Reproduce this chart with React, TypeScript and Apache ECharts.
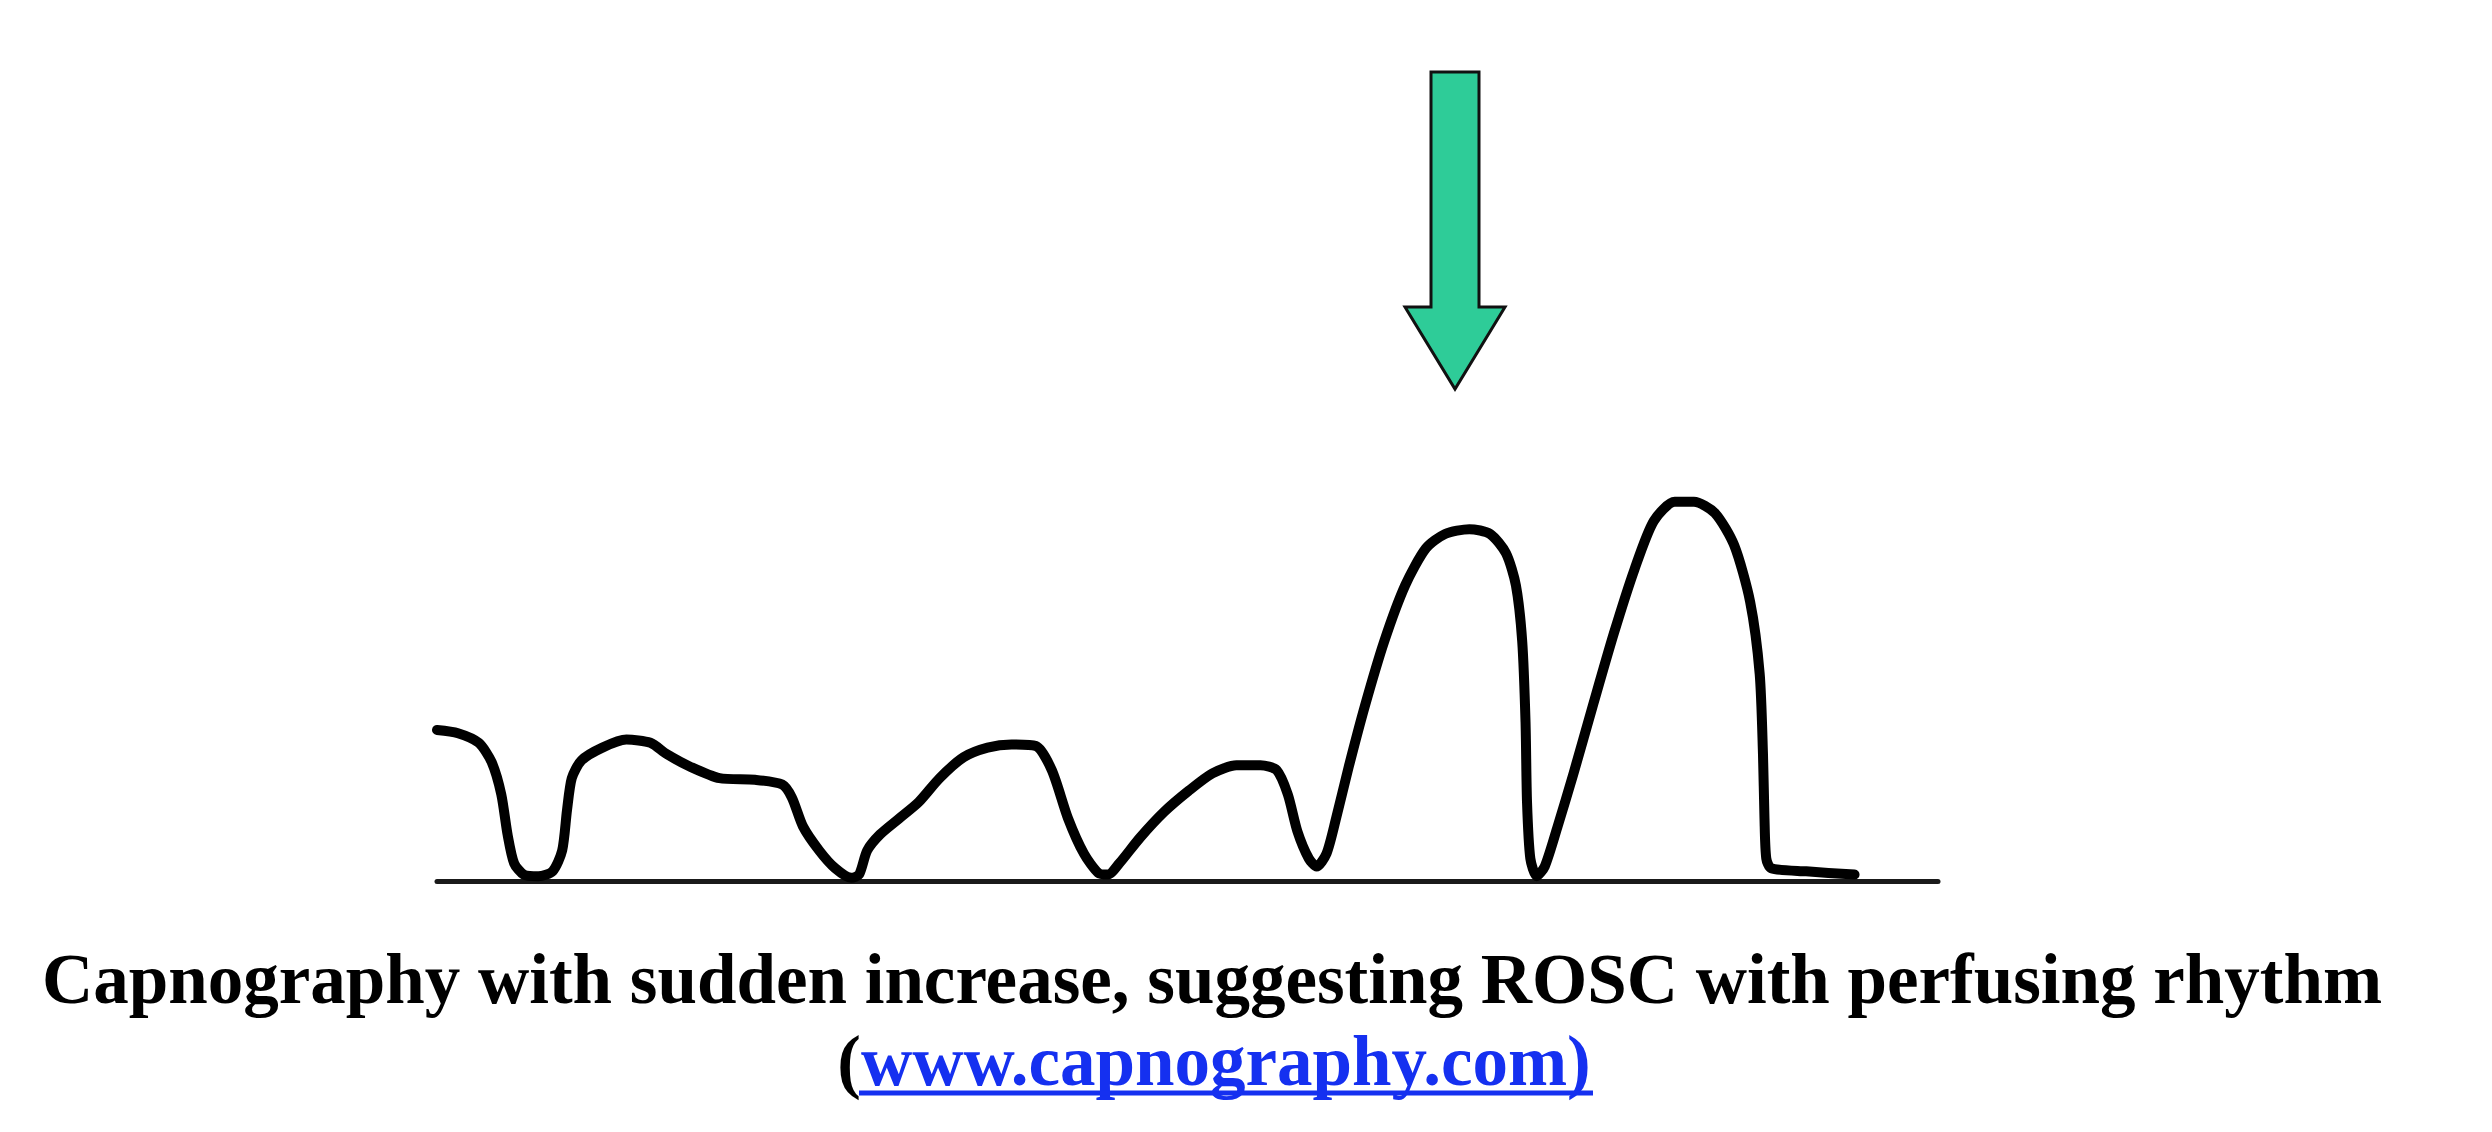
import React, { useEffect, useRef } from "react";
import * as echarts from "echarts";

// Time (s) and CO2 (mmHg)
const timeSec = [
  0.0, 0.7, 1.39, 1.82, 2.14, 2.35, 2.57, 2.89, 3.37, 3.85, 4.17, 4.33, 4.49, 4.81, 5.51, 6.31, 7.11, 7.65, 8.45, 9.41,
  10.59, 11.5, 11.82, 12.19, 12.73, 13.26, 13.8, 14.06, 14.33, 14.76, 15.4, 16.04, 16.74, 17.54, 18.34, 19.14, 19.95,
  20.48, 21.02, 21.55, 22.03, 22.35, 22.73, 23.42, 24.22, 25.03, 25.83, 26.63, 27.43, 27.97, 28.34, 28.66, 29.04, 29.3,
  29.63, 29.95, 30.37, 30.91, 31.55, 32.25, 32.94, 33.58, 34.39, 35.08, 35.61, 35.94, 36.15, 36.26, 36.31, 36.42, 36.63,
  36.9, 37.33, 37.86, 38.5, 39.2, 39.89, 40.53, 41.23, 41.87, 42.57, 43.21, 43.74, 44.06, 44.17, 44.22, 44.28, 44.44,
  45.61, 47.22,
];
const co2mmHg = [
  18.8, 18.4, 17.2, 14.8, 10.8, 5.8, 2.2, 0.8, 0.6, 1.2, 3.8, 8.8, 12.8, 15.0, 16.6, 17.6, 17.2, 15.8, 14.2, 12.8,
  12.6, 12.0, 10.4, 6.8, 3.8, 1.6, 0.4, 0.8, 3.8, 5.8, 7.8, 9.8, 12.8, 15.4, 16.6, 17.0, 16.8,
  13.8, 7.8, 3.4, 1.0, 0.8, 2.2, 5.4, 8.6, 11.2, 13.4, 14.4, 14.4, 13.8, 10.8, 6.2, 2.8, 1.8,
  3.4, 7.8, 14.2, 21.8, 29.8, 36.8, 41.4, 43.2, 43.8, 43.2, 40.8, 36.8, 29.8, 19.8, 9.8, 2.8, 0.6,
  1.8, 6.8, 13.4, 21.8, 30.8, 38.8, 44.8, 47.2, 47.2, 45.8, 41.8, 34.8, 25.8, 15.8, 7.8, 2.8, 1.6,
  1.2, 0.8,
];
const timeRange = [0, 50];
const co2Range = [0, 60];

const captionLine1 = "Capnography with sudden increase, suggesting ROSC with perfusing rhythm";
const captionOpen = "(";
const captionLink = "www.capnography.com)";

const captionFont = "bold 71px 'Liberation Serif', 'Times New Roman', serif";

export default function App() {
  const ref = useRef<HTMLDivElement>(null);
  useEffect(() => {
    if (!ref.current) return;
    const chart = echarts.init(ref.current, null, { renderer: "svg" });
    const data = timeSec.map((t, i) => [t, co2mmHg[i]]);
    chart.setOption({
      animation: false,
      backgroundColor: "#ffffff",
      grid: { left: 437, right: 554, top: 399, bottom: 251 },
      xAxis: {
        type: "value",
        min: timeRange[0],
        max: timeRange[1],
        axisLine: { show: true, lineStyle: { color: "#1a1a1a", width: 5 } },
        axisTick: { show: false },
        axisLabel: { show: false },
        splitLine: { show: false },
      },
      yAxis: {
        type: "value",
        min: co2Range[0],
        max: co2Range[1],
        show: false,
        splitLine: { show: false },
      },
      series: [
        {
          type: "line",
          data,
          smooth: 0.25,
          showSymbol: false,
          symbol: "none",
          lineStyle: { color: "#000000", width: 10, cap: "round", join: "round" },
          z: 3,
        },
      ],
      graphic: [
        {
          type: "polygon",
          shape: {
            points: [
              [1431, 72],
              [1479, 72],
              [1479, 307],
              [1505, 307],
              [1455, 389],
              [1405, 307],
              [1431, 307],
            ],
          },
          style: { fill: "#2ecc98", stroke: "#111111", lineWidth: 3 },
        },
        {
          type: "text",
          x: 1212,
          y: 979,
          style: {
            text: captionLine1,
            fill: "#000000",
            font: captionFont,
            align: "center",
            verticalAlign: "middle",
          },
        },
        {
          type: "text",
          x: 1214,
          y: 1061,
          style: {
            text: "{a|" + captionOpen + "}{b|" + captionLink + "}",
            align: "center",
            verticalAlign: "middle",
            rich: {
              a: { fill: "#000000", font: captionFont },
              b: { fill: "#1530f0", font: captionFont },
            },
          },
        },
        {
          type: "line",
          shape: { x1: 859, y1: 1093, x2: 1593, y2: 1093 },
          style: { stroke: "#1530f0", lineWidth: 5 },
        },
      ],
    });
    return () => chart.dispose();
  }, []);
  return (
    <div
      ref={ref}
      style={{ position: "fixed", left: 0, top: 0, width: 2492, height: 1132, background: "#fff" }}
    />
  );
}
